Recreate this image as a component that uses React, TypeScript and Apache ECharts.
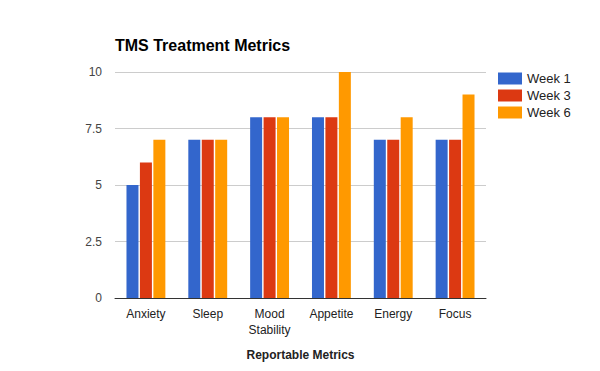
import React, { useEffect, useRef } from "react";
import * as echarts from "echarts";

const categories = ["Anxiety", "Sleep", "Mood\nStability", "Appetite", "Energy", "Focus"];
const week1 = [5, 7, 8, 8, 7, 7];
const week3 = [6, 7, 8, 8, 7, 7];
const week6 = [7, 7, 8, 10, 8, 9];
const yTicks = [0, 2.5, 5, 7.5, 10];

export default function App() {
  const ref = useRef<HTMLDivElement>(null);
  useEffect(() => {
    const chart = echarts.init(ref.current!, null, { renderer: "svg" });
    const font = "Arial, 'Liberation Sans', sans-serif";
    const mk = (name: string, data: number[], color: string) => ({
      name,
      type: "bar",
      data,
      barWidth: 12,
      barGap: "12%",
      itemStyle: { color },
    });
    chart.setOption({
      animation: false,
      textStyle: { fontFamily: font },
      title: {
        text: "TMS Treatment Metrics",
        left: 110,
        top: 32,
        textStyle: { fontSize: 16, fontWeight: "bold", color: "#000", fontFamily: font },
      },
      legend: {
        orient: "vertical",
        left: 493,
        top: 67,
        itemWidth: 24,
        itemHeight: 12,
        itemGap: 4,
        icon: "rect",
        textStyle: { fontSize: 13, color: "#222", fontFamily: font },
        data: ["Week 1", "Week 3", "Week 6"],
      },
      grid: { left: 115, right: 114, top: 72, bottom: 73, containLabel: false },
      xAxis: {
        type: "category",
        data: categories,
        name: "Reportable Metrics",
        nameLocation: "middle",
        nameGap: 51,
        nameTextStyle: { fontSize: 12, fontWeight: "bold", color: "#222", fontFamily: font },
        axisLine: { lineStyle: { color: "#333", width: 1 } },
        axisTick: { show: false },
        axisLabel: { fontSize: 12, color: "#222", margin: 8, lineHeight: 16, fontFamily: font },
      },
      yAxis: {
        type: "value",
        min: yTicks[0],
        max: yTicks[yTicks.length - 1],
        interval: 2.5,
        axisLine: { show: false },
        axisTick: { show: false },
        splitLine: { lineStyle: { color: "#cccccc" } },
        axisLabel: { fontSize: 12, color: "#444", margin: 13, fontFamily: font },
      },
      series: [mk("Week 1", week1, "#3366cc"), mk("Week 3", week3, "#dc3912"), mk("Week 6", week6, "#ff9900")],
    });
    return () => chart.dispose();
  }, []);
  return <div ref={ref} style={{ width: 600, height: 371, position: "absolute", left: 0, top: 0 }} />;
}
